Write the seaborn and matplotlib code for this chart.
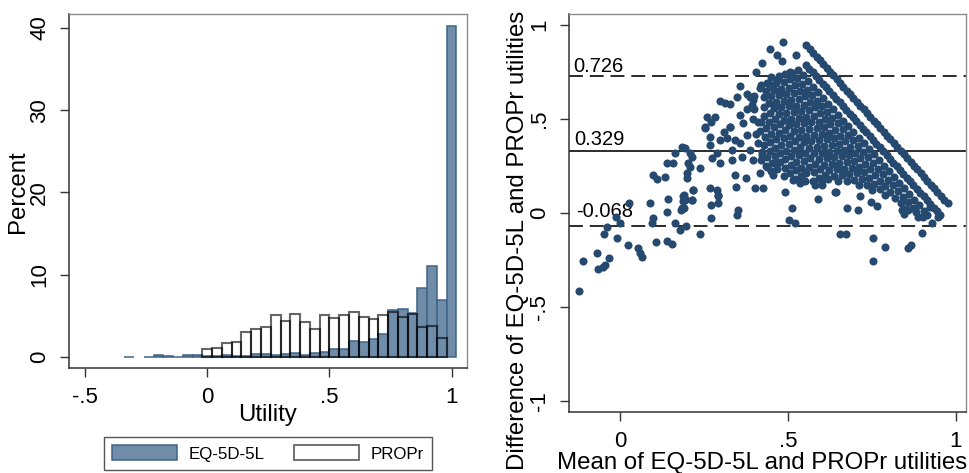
import numpy as np
import pandas as pd
import seaborn as sns
import matplotlib.pyplot as plt
from matplotlib.patches import Patch

sns.set_style("white")
plt.rcParams["font.family"] = ["Liberation Sans", "DejaVu Sans"]
plt.rcParams["text.color"] = "black"
plt.rcParams["axes.labelcolor"] = "black"
plt.rcParams["xtick.color"] = "black"
plt.rcParams["ytick.color"] = "black"

# ---- left panel: histogram, 0.04 wide bins (bin centres) ----
bin_mid = [-0.32, -0.28, -0.24, -0.20, -0.16, -0.12, -0.08, -0.04,
           0.00, 0.04, 0.08, 0.12, 0.16, 0.20, 0.24, 0.28,
           0.32, 0.36, 0.40, 0.44, 0.48, 0.52, 0.56, 0.60,
           0.64, 0.68, 0.72, 0.76, 0.80, 0.84, 0.88, 0.92, 0.96, 1.00]
eq_pct = [0.05, 0.0, 0.05, 0.2, 0.1, 0.05, 0.2, 0.3,
          0.1, 0.1, 0.2, 0.15, 0.1, 0.35, 0.4, 0.3,
          0.4, 0.45, 0.25, 0.45, 0.65, 0.95, 0.95, 2.0,
          1.85, 2.2, 2.8, 5.7, 5.8, 5.35, 8.35, 11.1, 6.9, 40.3]
propr_pct = [0, 0, 0, 0, 0, 0, 0, 0,
             0.93, 1.1, 1.75, 1.85, 3.05, 3.4, 3.6, 5.1,
             4.37, 5.2, 4.3, 3.4, 5.1, 4.75, 5.1, 5.5,
             4.8, 4.6, 5.05, 5.5, 4.8, 5.2, 3.7, 3.8, 2.3, 0]

# ---- right panel: Bland-Altman ----
loa_upper = 0.726
mean_diff = 0.329
loa_lower = -0.068

# PROPr values of respondents at a given EQ-5D-5L value (the diagonal streaks)
eq_levels = [1.0, 0.947, 0.91, 0.885, 0.86, 0.835, 0.81, 0.785,
             0.76, 0.735, 0.71, 0.685, 0.66, 0.635, 0.61, 0.585, 0.56]
propr_eq1000 = [0.11, 0.13, 0.15, 0.17, 0.19, 0.21, 0.23, 0.25, 0.27, 0.29, 0.31,
                0.33, 0.35, 0.37, 0.39, 0.41, 0.43, 0.45, 0.47, 0.49, 0.51, 0.53,
                0.55, 0.57, 0.59, 0.61, 0.63, 0.65, 0.67, 0.69, 0.71, 0.73, 0.75,
                0.77, 0.79, 0.81, 0.83, 0.85, 0.87, 0.89, 0.91, 0.93, 0.95]
propr_eq0947 = [0.16, 0.18, 0.20, 0.22, 0.24, 0.26, 0.28, 0.30, 0.32, 0.34, 0.36,
                0.38, 0.40, 0.42, 0.44, 0.46, 0.48, 0.50, 0.52, 0.54, 0.56, 0.58,
                0.60, 0.62, 0.64, 0.66, 0.68, 0.70, 0.72, 0.74, 0.76, 0.78, 0.80,
                0.82, 0.84, 0.86, 0.88, 0.90, 0.92, 0.94, 0.96]
propr_eq0910 = [0.15, 0.18, 0.21, 0.24, 0.27, 0.30, 0.33, 0.36, 0.39, 0.42, 0.45,
                0.48, 0.51, 0.54, 0.57, 0.60, 0.63, 0.66, 0.69, 0.72, 0.75, 0.78,
                0.81, 0.84, 0.87, 0.90, 0.92]
propr_eq0885 = [0.14, 0.17, 0.20, 0.23, 0.26, 0.29, 0.32, 0.35, 0.38, 0.41, 0.44,
                0.47, 0.50, 0.53, 0.56, 0.59, 0.62, 0.65, 0.68, 0.71, 0.74, 0.77,
                0.80, 0.83, 0.86, 0.88]
propr_eq0860 = [0.12, 0.15, 0.18, 0.21, 0.24, 0.27, 0.30, 0.33, 0.36, 0.39, 0.42,
                0.45, 0.48, 0.51, 0.54, 0.57, 0.60, 0.63, 0.66, 0.69, 0.72, 0.75,
                0.78, 0.81, 0.84]
propr_eq0835 = [0.11, 0.14, 0.17, 0.20, 0.23, 0.26, 0.29, 0.32, 0.35, 0.38, 0.41,
                0.44, 0.47, 0.50, 0.53, 0.56, 0.59, 0.62, 0.65, 0.68, 0.71, 0.74]
propr_eq0810 = [0.09, 0.12, 0.15, 0.18, 0.21, 0.24, 0.27, 0.30, 0.33, 0.36, 0.39,
                0.42, 0.45, 0.48, 0.51, 0.54, 0.57, 0.60, 0.63, 0.66, 0.69]
propr_eq0785 = [0.10, 0.13, 0.16, 0.19, 0.22, 0.25, 0.28, 0.31, 0.34, 0.37, 0.40,
                0.43, 0.46, 0.49, 0.52, 0.55, 0.58, 0.61, 0.635]
propr_eq0760 = [0.08, 0.11, 0.14, 0.17, 0.20, 0.23, 0.26, 0.29, 0.32, 0.35, 0.38,
                0.41, 0.44, 0.47, 0.50, 0.53, 0.56, 0.59]
propr_eq0735 = [0.12, 0.15, 0.18, 0.21, 0.24, 0.27, 0.30, 0.33, 0.36, 0.39,
                0.42, 0.45, 0.48, 0.51, 0.54, 0.565]
propr_eq0710 = [0.15, 0.18, 0.21, 0.24, 0.27, 0.30, 0.33, 0.36, 0.39,
                0.42, 0.45, 0.48, 0.51, 0.53]
propr_eq0685 = [0.17, 0.20, 0.23, 0.26, 0.29, 0.32, 0.35, 0.38, 0.41,
                0.44, 0.47, 0.50, 0.515]
propr_eq0660 = [0.18, 0.21, 0.24, 0.27, 0.30, 0.33, 0.36, 0.39, 0.42, 0.45, 0.49]
propr_eq0635 = [0.20, 0.23, 0.26, 0.29, 0.32, 0.35, 0.38, 0.41, 0.44, 0.465]
propr_eq0610 = [0.25, 0.28, 0.31, 0.34, 0.37, 0.40, 0.43]
propr_eq0585 = [0.26, 0.29, 0.32, 0.35, 0.39]
propr_eq0560 = [0.28, 0.31, 0.34]
propr_by_level = [propr_eq1000, propr_eq0947, propr_eq0910, propr_eq0885, propr_eq0860,
                  propr_eq0835, propr_eq0810, propr_eq0785, propr_eq0760, propr_eq0735,
                  propr_eq0710, propr_eq0685, propr_eq0660, propr_eq0635, propr_eq0610,
                  propr_eq0585, propr_eq0560]

# remaining scattered respondents, read as (mean, difference)
mean_other = [-0.121, -0.109, -0.069, -0.067, -0.050, -0.045, -0.032, -0.047, -0.038, -0.008,
              -0.012, 0.000, 0.025, 0.054, 0.060, 0.066, 0.028, 0.089, 0.097, 0.094,
              0.106, 0.139, 0.144, 0.141, 0.154, 0.164, 0.177, 0.182, 0.190, 0.190,
              0.194, 0.188, 0.213, 0.196, 0.218, 0.238, 0.270, 0.270, 0.293, 0.293,
              0.352, 0.347, 0.511, 0.504, 0.521, 0.590, 0.655, 0.673, 0.675, 0.709,
              0.640, 0.253, 0.268, 0.268, 0.288, 0.298, 0.273, 0.184, 0.194, 0.208,
              0.213, 0.203, 0.208, 0.164, 0.139, 0.159, 0.099, 0.109, 0.134, 0.198,
              0.238, 0.198, 0.218, 0.188, 0.193, 0.183, 0.213, 0.268, 0.290, 0.293,
              0.345, 0.342, 0.375, 0.402, 0.427, 0.491, 0.332, 0.332, 0.362, 0.298,
              0.317, 0.308, 0.327, 0.342, 0.357, 0.377, 0.387, 0.397, 0.422, 0.437,
              0.417, 0.466, 0.456, 0.486, 0.446, 0.466, 0.481, 0.422, 0.405, 0.357,
              0.298, 0.312, 0.327, 0.347, 0.377, 0.387, 0.397, 0.392, 0.377, 0.417,
              0.437, 0.451, 0.466, 0.258, 0.283, 0.270, 0.253, 0.327, 0.357, 0.367,
              0.523, 0.506, 0.752, 0.752, 0.790, 0.857, 0.867, 0.900, 0.746, 0.766,
              0.714, 0.840, 0.858, 0.845, 0.888, 0.903, 0.928, 0.923, 0.948, 0.643,
              0.550, 0.580, 0.600, 0.536, 0.516, 0.400, 0.410, 0.405, 0.410, 0.400,
              0.395]
diff_other = [-0.415, -0.257, -0.213, -0.298, -0.290, -0.278, -0.241, -0.115, -0.078, -0.133,
              -0.021, -0.057, -0.172, -0.186, -0.216, -0.234, 0.050, 0.050, -0.030, -0.057,
              -0.158, 0.006, 0.073, -0.149, -0.168, -0.053, -0.092, 0.014, 0.023, 0.094,
              0.075, 0.060, 0.067, -0.071, 0.120, -0.115, 0.041, -0.030, 0.094, 0.053,
              0.014, -0.012, 0.027, -0.039, -0.053, 0.073, -0.115, -0.115, 0.023, 0.014,
              0.112, 0.449, 0.404, 0.360, 0.316, 0.262, 0.289, 0.351, 0.343, 0.316,
              0.298, 0.262, 0.245, 0.316, 0.266, 0.262, 0.200, 0.178, 0.191, 0.213,
              0.236, 0.183, 0.121, 0.089, 0.068, 0.023, 0.068, 0.129, 0.120, 0.090,
              0.138, 0.200, 0.183, 0.130, 0.133, 0.112, 0.334, 0.280, 0.298, 0.387,
              0.396, 0.431, 0.458, 0.387, 0.369, 0.413, 0.334, 0.280, 0.307, 0.245,
              0.209, 0.262, 0.200, 0.909, 0.869, 0.839, 0.809, 0.794, 0.750, 0.674,
              0.596, 0.585, 0.578, 0.614, 0.631, 0.615, 0.600, 0.574, 0.550, 0.661,
              0.688, 0.670, 0.706, 0.510, 0.507, 0.484, 0.454, 0.457, 0.520, 0.475,
              0.840, 0.751, -0.137, -0.256, -0.181, -0.190, -0.172, -0.110, 0.055, 0.036,
              0.088, 0.014, 0.014, -0.007, -0.021, -0.021, -0.056, 0.032, -0.021, 0.112,
              0.218, 0.147, 0.147, 0.156, 0.174, 0.550, 0.480, 0.420, 0.370, 0.620,
              0.500]

NAVY = "#26496f"
EQ_FILL = "#6f8ca8"
EQ_EDGE = "#3f6487"
FS_TICK = 16
FS_TITLE = 17.3

fig = plt.figure(figsize=(9.69, 4.73), dpi=100)
ax1 = fig.add_axes([69 / 969, 1 - 368 / 473, 398 / 969, 354 / 473])
ax2 = fig.add_axes([569 / 969, 1 - 412 / 473, 397 / 969, 398 / 473])

# histogram
hist_df = pd.DataFrame({"mid": bin_mid, "eq": eq_pct, "propr": propr_pct})
edges = [m - 0.02 for m in bin_mid] + [bin_mid[-1] + 0.02]
sns.histplot(data=hist_df, x="mid", weights="eq", bins=edges, ax=ax1, color=EQ_FILL,
             alpha=1, edgecolor=EQ_EDGE, linewidth=1.1)
sns.histplot(data=hist_df, x="mid", weights="propr", bins=edges, ax=ax1, fill=False,
             color="black", alpha=0.6, linewidth=1.5)
for p in ax1.patches:
    if p.get_height() == 0:
        p.set_visible(False)

ax1.set_xlim(-0.566, 1.063)
ax1.set_ylim(-1.34, 41.7)
ax1.set_xticks([-0.5, 0, 0.5, 1])
ax1.set_xticklabels(["-.5", "0", ".5", "1"])
ax1.set_yticks([0, 10, 20, 30, 40])
ax1.set_yticklabels(["0", "10", "20", "30", "40"], rotation=90, va="center")
ax1.set_xlabel("Utility", fontsize=FS_TITLE, va="center")
ax1.set_ylabel("Percent", fontsize=FS_TITLE, va="center")
ax1.xaxis.set_label_coords(0.5, -0.132)
ax1.yaxis.set_label_coords(-0.128, 0.497)

handles = [Patch(facecolor=EQ_FILL, edgecolor=EQ_EDGE, linewidth=1.1),
           Patch(facecolor="white", edgecolor="#666666", linewidth=1.3)]
leg = fig.legend(handles, ["EQ-5D-5L", "PROPr"], loc="center",
                 bbox_to_anchor=(268 / 969, 1 - 453.5 / 473), ncol=2, fontsize=12.2,
                 frameon=True, fancybox=False, edgecolor="#555555", framealpha=1,
                 handlelength=3.83, handleheight=0.96, handletextpad=0.66,
                 columnspacing=1.76, borderpad=0.5, borderaxespad=0)
leg.get_frame().set_linewidth(1.0)

# Bland-Altman scatter
rows = []
for e, props in zip(eq_levels, propr_by_level):
    for p in props:
        rows.append({"mean": (e + p) / 2, "diff": e - p})
df = pd.concat([pd.DataFrame(rows),
                pd.DataFrame({"mean": mean_other, "diff": diff_other})], ignore_index=True)

for yv, ls in [(loa_upper, (0, (7.7, 3.8))), (mean_diff, "-"), (loa_lower, (0, (7.7, 3.8)))]:
    ax2.axhline(yv, color="#1a1a1a", lw=1.3, ls=ls, zorder=1)
ax2.text(-0.140, 0.748, "0.726", fontsize=14.5, va="baseline", ha="left", zorder=2)
ax2.text(-0.137, 0.360, "0.329", fontsize=14.5, va="baseline", ha="left", zorder=2)
ax2.text(-0.131, -0.023, "-0.068", fontsize=14.5, va="baseline", ha="left", zorder=2)

sns.scatterplot(data=df, x="mean", y="diff", ax=ax2, color=NAVY, s=34,
                linewidth=0, zorder=3, legend=False)

ax2.set_xlim(-0.152, 1.030)
ax2.set_ylim(-1.060, 1.057)
ax2.set_xticks([0, 0.5, 1])
ax2.set_xticklabels(["0", ".5", "1"])
ax2.set_yticks([-1, -0.5, 0, 0.5, 1])
ax2.set_yticklabels(["-1", "-.5", "0", ".5", "1"], rotation=90, va="center")
ax2.set_xlabel("Mean of EQ-5D-5L and PROPr utilities", fontsize=FS_TITLE, va="center")
ax2.set_ylabel("Difference of EQ-5D-5L and PROPr utilities", fontsize=FS_TITLE, va="center")
ax2.xaxis.set_label_coords(0.487, -0.128)
ax2.yaxis.set_label_coords(-0.128, 0.432)

for ax in (ax1, ax2):
    ax.tick_params(axis="both", which="both", bottom=True, left=True, direction="out",
                   length=6.5, width=1, color="#333333", labelsize=FS_TICK, pad=7)
    for side in ("top", "right"):
        ax.spines[side].set_color("#8c8c8c")
        ax.spines[side].set_linewidth(1.0)
    for side in ("left", "bottom"):
        ax.spines[side].set_color("#333333")
        ax.spines[side].set_linewidth(1.1)

fig.savefig("out.png", dpi=100, facecolor="white")
